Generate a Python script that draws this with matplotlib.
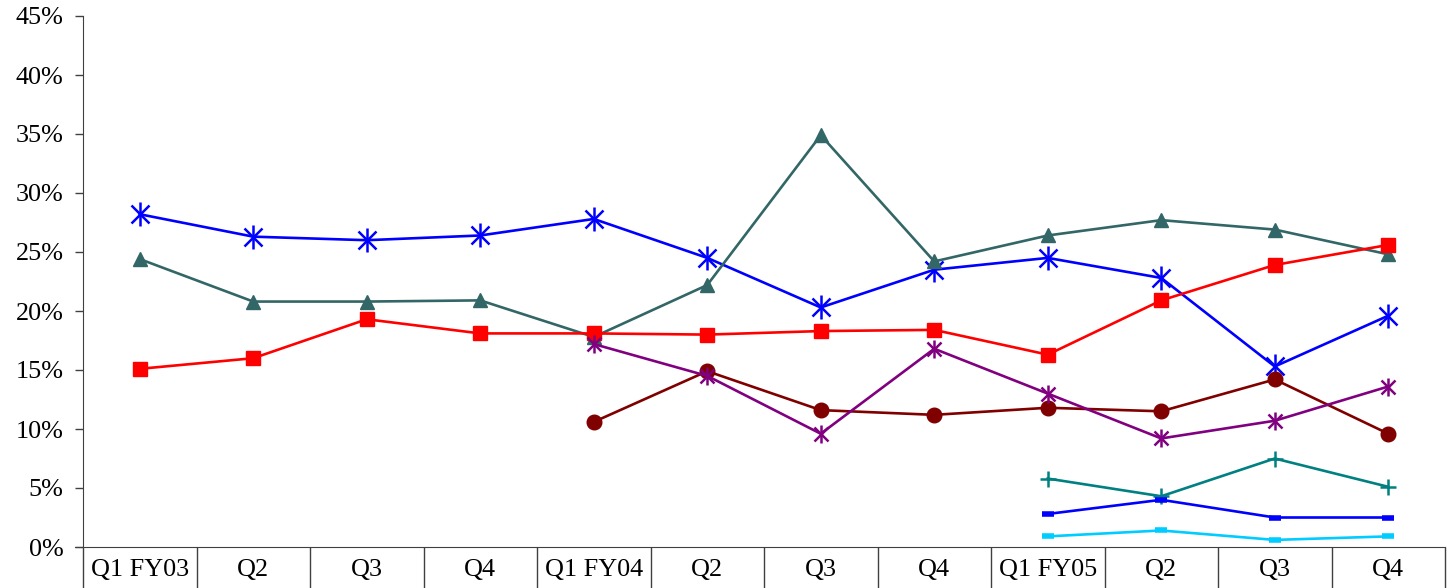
import matplotlib
matplotlib.use("Agg")
import matplotlib.pyplot as plt
import numpy as np
from matplotlib.ticker import FuncFormatter, FixedLocator

plt.rcParams["font.family"] = ["Liberation Serif", "DejaVu Serif"]

quarters = ["Q1 FY03", "Q2", "Q3", "Q4", "Q1 FY04", "Q2", "Q3", "Q4",
            "Q1 FY05", "Q2", "Q3", "Q4"]

blueStar = [28.2, 26.3, 26.0, 26.4, 27.8, 24.5, 20.3, 23.5, 24.5, 22.8, 15.3, 19.6]
tealTriangle = [24.4, 20.8, 20.8, 20.9, 17.8, 22.2, 34.9, 24.2, 26.4, 27.7, 26.9, 24.8]
redSquare = [15.1, 16.0, 19.3, 18.1, 18.1, 18.0, 18.3, 18.4, 16.3, 20.9, 23.9, 25.6]
maroonCircle = [None, None, None, None, 10.6, 14.9, 11.6, 11.2, 11.8, 11.5, 14.2, 9.6]
purpleStar = [None, None, None, None, 17.2, 14.5, 9.6, 16.8, 13.0, 9.2, 10.7, 13.6]
tealPlus = [None] * 8 + [5.8, 4.3, 7.5, 5.1]
blueDash = [None] * 8 + [2.8, 4.0, 2.5, 2.5]
cyanDash = [None] * 8 + [0.9, 1.4, 0.6, 0.9]


def toArray(values):
    return np.array([np.nan if v is None else v for v in values], dtype=float) / 100.0


x = np.arange(len(quarters))

fig = plt.figure(figsize=(14.55, 5.88), dpi=100)
ax = fig.add_axes([83 / 1455, 41 / 588, 1362 / 1455, 531 / 588])

lw = 1.9
# blue: excel "star" marker = x plus vertical bar
ax.plot(x, toArray(blueStar), color="#0000FF", lw=lw, marker="x", markersize=13, mew=1.8)
ax.plot(x, toArray(blueStar), color="#0000FF", lw=0, marker="|", markersize=17, mew=1.8)
ax.plot(x, toArray(tealTriangle), color="#336666", lw=lw, marker="^", markersize=10)
ax.plot(x, toArray(redSquare), color="#FF0000", lw=lw, marker="s", markersize=10)
ax.plot(x, toArray(maroonCircle), color="#800000", lw=lw, marker="o", markersize=10.5)
ax.plot(x, toArray(purpleStar), color="#800080", lw=lw, marker="x", markersize=10, mew=1.8)
ax.plot(x, toArray(purpleStar), color="#800080", lw=0, marker="|", markersize=13, mew=1.8)
ax.plot(x, toArray(tealPlus), color="#008080", lw=lw, marker="+", markersize=12, mew=1.8)
ax.plot(x, toArray(blueDash), color="#0000FF", lw=lw, marker="_", markersize=9, mew=4)
ax.plot(x, toArray(cyanDash), color="#00CCFF", lw=lw, marker="_", markersize=9, mew=4)

ax.set_xlim(-0.5, len(quarters) - 0.5)
ax.set_ylim(0, 0.45)
ax.set_yticks(np.arange(0, 0.451, 0.05))
ax.yaxis.set_major_formatter(FuncFormatter(lambda v, p: f"{v * 100:.0f}%"))

ax.set_xticks(x)
ax.set_xticklabels(quarters)
ax.xaxis.set_minor_locator(FixedLocator(np.arange(-0.5, len(quarters), 1.0)))
ax.tick_params(axis="x", which="major", length=0, pad=9, labelsize=18.8)
ax.tick_params(axis="x", which="minor", length=30, width=1.0, color="#404040", direction="out")
ax.tick_params(axis="y", length=6, width=1.0, color="#404040", pad=8, labelsize=18.8)

for side in ["top", "right"]:
    ax.spines[side].set_visible(False)
ax.spines["left"].set_color("#404040")
ax.spines["bottom"].set_color("#404040")
ax.spines["bottom"].set_bounds(-0.5 - 8 / 113.5, len(quarters) - 0.5)

fig.savefig("out.png", dpi=100)
